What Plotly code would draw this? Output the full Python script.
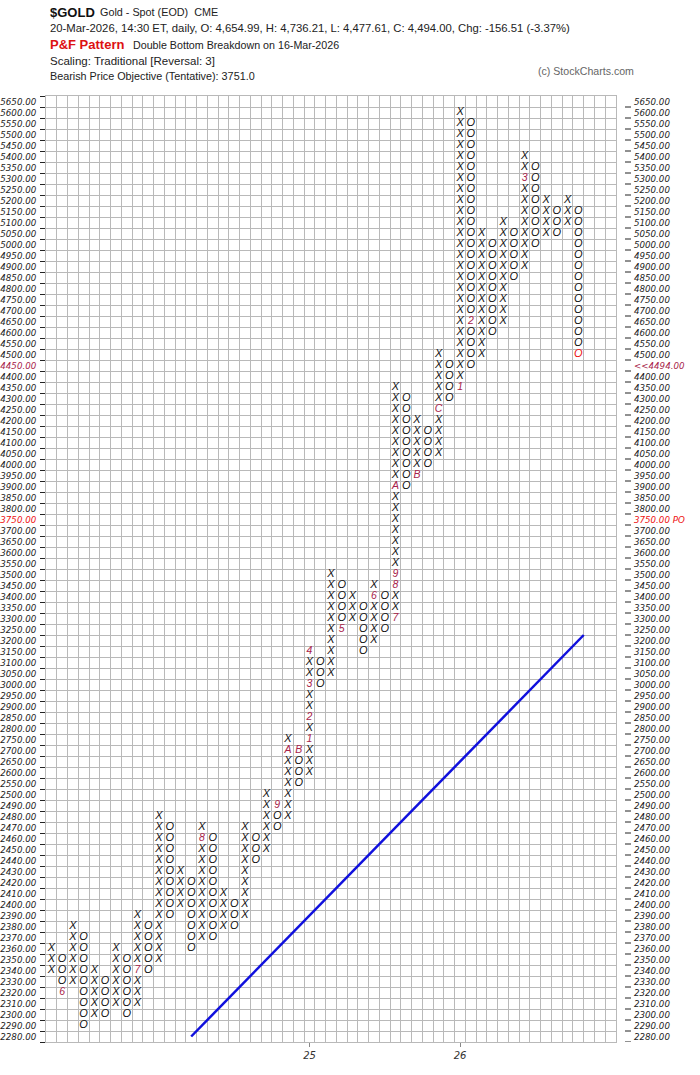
import plotly.graph_objects as go

# ---------------- data ----------------
# box levels (traditional scaling: 10 below 2500, 50 from 2500)
levels_low = list(range(2280, 2500, 10))
levels_high = list(range(2500, 5651, 50))
levels = levels_low + levels_high

# P&F columns: type, first box price, last box price
col_type = list("XOXOXOXOXOXOXOXOXOXOXOXOXOXOXOXOXOXOXOXOXOXOXOXOXO")
col_from = [2340, 2350, 2330, 2370, 2300, 2330, 2310, 2350, 2310, 2380,
            2350, 2470, 2400, 2420, 2370, 2460, 2380, 2400, 2390, 2460,
            2450, 2490, 2480, 2700, 2600, 3100, 3050, 3450, 3300, 3350,
            3200, 3400, 3300, 4300, 3950, 4150, 4050, 4450, 4350, 5550,
            4500, 5000, 4650, 5050, 4900, 5350, 5050, 5150, 5100, 5150]
col_to = [2360, 2320, 2380, 2290, 2340, 2300, 2360, 2300, 2390, 2340,
          2480, 2390, 2430, 2360, 2470, 2370, 2410, 2380, 2470, 2440,
          2500, 2470, 2750, 2550, 3150, 3000, 3500, 3250, 3400, 3150,
          3450, 3250, 4350, 3900, 4200, 4000, 4500, 4300, 5600, 4450,
          5050, 4600, 5100, 4850, 5400, 5000, 5200, 5050, 5200, 4500]

# month markers (column, price, label)
mark_col = [1, 8, 14, 21, 22, 23, 24, 24, 24, 24, 27, 30, 32, 32, 32, 32, 34, 36, 38, 39, 44]
mark_price = [2320, 2340, 2460, 2490, 2700, 2700, 2750, 2850, 3000, 3150, 3250, 3400,
              3300, 3450, 3500, 3900, 3950, 4250, 4350, 4650, 5300]
mark_text = ["6", "7", "8", "9", "A", "B", "1", "2", "3", "4", "5", "6",
             "7", "8", "9", "A", "B", "C", "1", "2", "3"]

n_grid_cols = 53
year_cols = [24, 38]
year_labels = ["25", "26"]

last_price_label = "4494.00"
last_price_row_price = 4450
objective_price = 3750

trend_start_col = 13
trend_start_price = 2280
trend_end_col = 49.5

# ---------------- build ----------------
row_of = {p: i for i, p in enumerate(levels)}
marks = {(c, row_of[p]): t for c, p, t in zip(mark_col, mark_price, mark_text)}

xs_x, ys_x, xs_o, ys_o = [], [], [], []
last_x, last_y = [], []
for c, (t, a, b) in enumerate(zip(col_type, col_from, col_to)):
    ra, rb = row_of[a], row_of[b]
    lo, hi = min(ra, rb), max(ra, rb)
    for r in range(lo, hi + 1):
        if (c, r) in marks:
            continue
        if c == len(col_type) - 1 and r == rb:
            last_x.append(c)
            last_y.append(r)
            continue
        if t == "X":
            xs_x.append(c); ys_x.append(r)
        else:
            xs_o.append(c); ys_o.append(r)

W, H = 700, 1075
ML, MR, MT, MB = 46, 84, 96, 33
PW, PH = W - ML - MR, H - MT - MB


def px(xp):
    return (xp - ML) / PW


def py(yp):
    return (H - MB - yp) / PH


mark_font = dict(family="Liberation Sans, Arial", size=11, color="#111111", style="italic")

fig = go.Figure()
fig.add_trace(go.Scatter(x=xs_x, y=ys_x, mode="text", text=["X"] * len(xs_x),
                         textfont=mark_font, hoverinfo="skip", showlegend=False))
fig.add_trace(go.Scatter(x=xs_o, y=ys_o, mode="text", text=["O"] * len(xs_o),
                         textfont=mark_font, hoverinfo="skip", showlegend=False))
fig.add_trace(go.Scatter(x=mark_col, y=[row_of[p] for p in mark_price], mode="text",
                         text=mark_text,
                         textfont=dict(family="Liberation Sans, Arial", size=10.5,
                                       color="#a8234a", style="italic"),
                         hoverinfo="skip", showlegend=False))
fig.add_trace(go.Scatter(x=last_x, y=last_y, mode="text", text=["O"] * len(last_x),
                         textfont=dict(family="Liberation Sans, Arial", size=11,
                                       color="#ee1111", style="italic"),
                         hoverinfo="skip", showlegend=False))
r0 = row_of[trend_start_price]
fig.add_trace(go.Scatter(x=[trend_start_col, trend_end_col],
                         y=[r0, r0 + (trend_end_col - trend_start_col)],
                         mode="lines", line=dict(color="#1010dd", width=2.5),
                         hoverinfo="skip", showlegend=False))
fig.add_trace(go.Scatter(x=[None], y=[None], yaxis="y2", showlegend=False))

# tick labels
rows = list(range(len(levels)))
left_text, right_text = [], []
for p in levels:
    s = f"{p:.2f}"
    if p == last_price_row_price:
        left_text.append(f"<span style='color:#a8234a'>{s}</span>")
        right_text.append(f"<span style='color:#a8234a'>&lt;&lt;{last_price_label}</span>")
    elif p == objective_price:
        left_text.append(f"<span style='color:#ee1111'>{s}</span>")
        right_text.append(f"<span style='color:#ee1111'>{s} PO</span>")
    else:
        left_text.append(s)
        right_text.append(s)

grid_col = "#b9b9b9"
tick_font = dict(family="DejaVu Sans", size=8.7, color="#222222", style="italic")
yr = [-0.5, len(levels) - 0.5]

fig.update_layout(
    width=W, height=H,
    margin=dict(l=ML, r=MR, t=MT, b=MB, autoexpand=False),
    paper_bgcolor="white", plot_bgcolor="white",
    xaxis=dict(range=[-0.5, n_grid_cols - 0.5], tickvals=year_cols, ticktext=year_labels,
               ticks="outside", ticklen=4, tickcolor="#888888", showgrid=False, automargin=False,
               zeroline=False, tickfont=dict(family="DejaVu Sans", size=10, color="#333333", style="italic"),
               showline=True, mirror=True, linecolor=grid_col, linewidth=1,
               minor=dict(tick0=-0.5, dtick=1, showgrid=True, gridcolor=grid_col, gridwidth=1, ticks="")),
    yaxis=dict(range=yr, tickvals=rows, ticktext=left_text, ticks="", showgrid=False,
               zeroline=False, tickfont=tick_font, ticklabelstandoff=7, automargin=False,
               showline=True, mirror=True, linecolor=grid_col, linewidth=1,
               minor=dict(tick0=-0.5, dtick=1, showgrid=True, gridcolor=grid_col, gridwidth=1,
                          ticks="outside", ticklen=5, tickcolor="#222222")),
    yaxis2=dict(range=yr, overlaying="y", side="right", tickvals=rows, ticktext=right_text,
                ticks="", showgrid=False, zeroline=False, tickfont=tick_font, automargin=False,
                ticklabelstandoff=17, showline=False),
)

# right-hand tick marks, detached from the grid like the reference
for r in rows:
    fig.add_shape(type="line", xref="paper", yref="y", x0=px(625), x1=px(631),
                  y0=r - 0.5, y1=r - 0.5, line=dict(color="#222222", width=1))

hdr = "Liberation Sans Narrow, Liberation Sans, Arial"
ann = [
    (48, 12, "<b>$GOLD</b>", 13, "#111111"),
    (98, 12, "Gold - Spot (EOD)  CME", 10.8, "#222222"),
    (48, 28, "20-Mar-2026, 14:30 ET, daily, O: 4,654.99, H: 4,736.21, L: 4,477.61, C: 4,494.00, Chg: -156.51 (-3.37%)", 11.3, "#222222"),
    (48, 44, "<b>P&F Pattern</b>", 13, "#dd1111"),
    (131, 45, "Double Bottom Breakdown on 16-Mar-2026", 10.7, "#222222"),
    (48, 61, "Scaling: Traditional [Reversal: 3]", 11.5, "#222222"),
    (48, 76, "Bearish Price Objective (Tentative): 3751.0", 10.8, "#222222"),
    (536, 71, "(c) StockCharts.com", 10.6, "#666666"),
]
for x0, y0, t, s, c in ann:
    fig.add_annotation(x=px(x0), y=py(y0), xref="paper", yref="paper", text=t,
                       showarrow=False, xanchor="left", yanchor="middle",
                       font=dict(family=hdr, size=s, color=c))

fig.write_html("out.html", config={"displayModeBar": False},
               post_script="document.body.style.margin='0';")
